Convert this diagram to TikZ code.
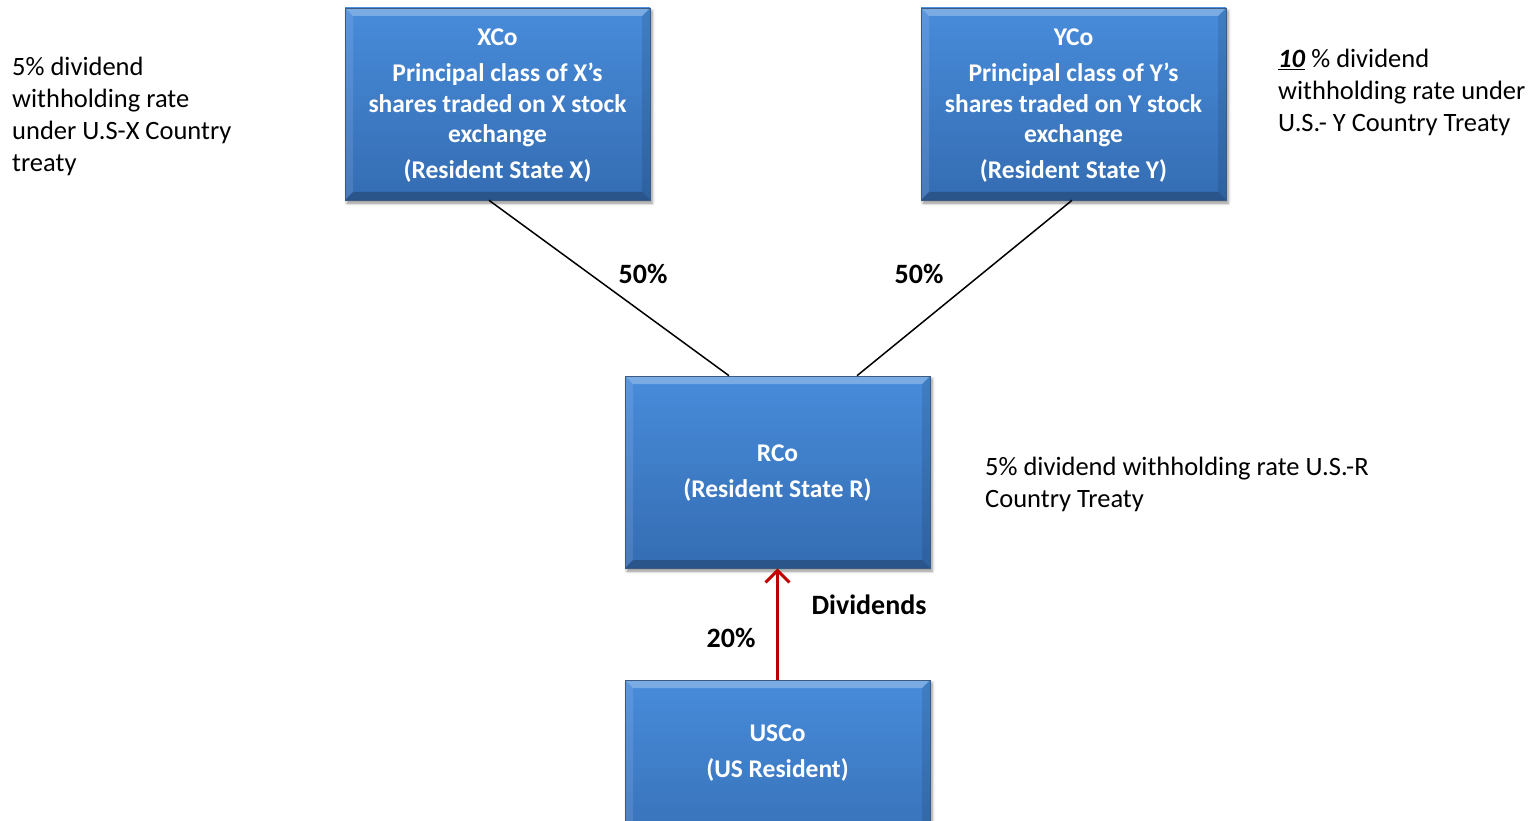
\documentclass[tikz,border=0pt]{standalone}
\usepackage{fontspec}
\setmainfont{Carlito}
\usetikzlibrary{arrows.meta,shadows.blur,calc}
\definecolor{boxtop}{RGB}{72,140,218}
\definecolor{boxbot}{RGB}{52,108,178}
\definecolor{boxline}{RGB}{60,90,130}
\definecolor{arrred}{RGB}{192,0,0}
\tikzset{
  cobox/.style={rectangle, minimum width=305pt, minimum height=192pt, inner sep=0pt,
    top color=boxtop, bottom color=boxbot, draw=boxline, line width=0.6pt,
    blur shadow={shadow xshift=2pt, shadow yshift=-3pt, shadow blur radius=3pt, shadow opacity=45},
    text=white, font=\fontsize{25.5}{30.5}\selectfont\bfseries, align=center,
    path picture={
      \fill[white,opacity=0.28] (path picture bounding box.north west) -- (path picture bounding box.north east)
        -- ([xshift=-8pt,yshift=-8pt]path picture bounding box.north east) -- ([xshift=8pt,yshift=-8pt]path picture bounding box.north west) -- cycle;
      \fill[white,opacity=0.10] (path picture bounding box.north west) -- (path picture bounding box.south west)
        -- ([xshift=8pt,yshift=8pt]path picture bounding box.south west) -- ([xshift=8pt,yshift=-8pt]path picture bounding box.north west) -- cycle;
      \fill[black,opacity=0.10] (path picture bounding box.north east) -- (path picture bounding box.south east)
        -- ([xshift=-8pt,yshift=8pt]path picture bounding box.south east) -- ([xshift=-8pt,yshift=-8pt]path picture bounding box.north east) -- cycle;
      \fill[black,opacity=0.22] (path picture bounding box.south west) -- (path picture bounding box.south east)
        -- ([xshift=-8pt,yshift=8pt]path picture bounding box.south east) -- ([xshift=8pt,yshift=8pt]path picture bounding box.south west) -- cycle;
    }},
  boxtext/.style={inner sep=0pt, text=white, font=\fontsize{25.5}{30.5}\selectfont\bfseries, align=center},
  note/.style={anchor=north west, inner sep=0pt, align=left, font=\fontsize{26.5}{32}\selectfont},
  pct/.style={inner sep=0pt, font=\fontsize{28}{32}\selectfont\bfseries},
  link/.style={line width=1.5pt, black},
  divarrow/.style={line width=3pt, arrred, -{Straight Barb[length=12pt,width=24pt,line width=3pt]}}
}
\begin{document}
\begin{tikzpicture}[x=1pt,y=-1pt]
\useasboundingbox (0,0) rectangle (1538,821);
\begin{scope}
\clip (0,0) rectangle (1538,821);
\node[cobox] (xco) at (497.5,104) {};
\node[boxtext] (xlab) at (497.5,106) {XCo\\[5.5pt]Principal class of X’s\\shares traded on X stock\\exchange\\[5.5pt](Resident State X)};
\node[cobox] (yco) at (1073.5,104) {};
\node[boxtext] (ylab) at (1073.5,106) {YCo\\[5.5pt]Principal class of Y’s\\shares traded on Y stock\\exchange\\[5.5pt](Resident State Y)};
\node[cobox] (rco) at (777.5,472) {};
\node[boxtext] (rlab) at (777.5,473.5) {RCo\\[5.5pt](Resident State R)};
\node[cobox] (usco) at (777.5,776) {};
\node[boxtext] (uslab) at (777.5,753) {USCo\\[5.5pt](US Resident)};
\end{scope}

\draw[link] ([xshift=-8.5pt]xco.south) -- ([xshift=-48.5pt]rco.north);
\draw[link] ([xshift=-1.5pt]yco.south) -- ([xshift=79.5pt]rco.north);
\draw[divarrow] (usco.north) -- (rco.south);

\node[pct] (p1) at (643,274) {50\%};
\node[pct] (p2) at (919,274) {50\%};
\node[pct] (div) at (869,605) {Dividends};
\node[pct] (p3) at (731,638) {20\%};

\node[note] (nx) at (12,57) {5\% dividend\\withholding rate\\under U.S-X Country\\treaty};
\node[note] (ny) at (1278,49) {\underline{\textbf{\textit{10}}} \% dividend\\withholding rate under\\U.S.- Y Country Treaty};
\node[note] (nr) at (985,457) {5\% dividend withholding rate U.S.-R\\Country Treaty};
\end{tikzpicture}
\end{document}
